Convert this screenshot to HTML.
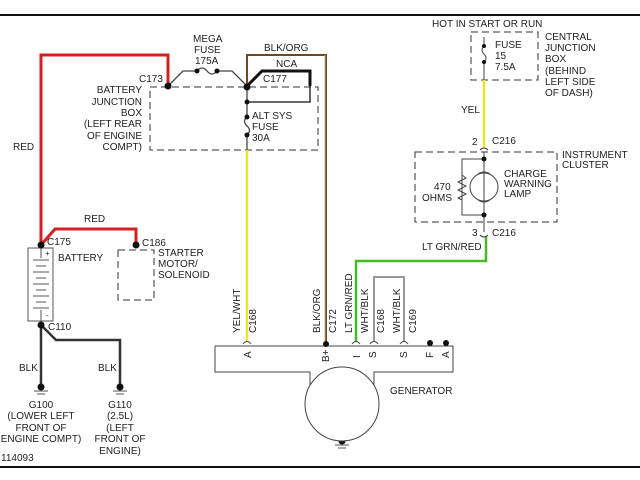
<!DOCTYPE html>
<html><head><meta charset="utf-8"><style>
html,body{margin:0;padding:0;background:#fff;width:640px;height:480px;overflow:hidden}
svg text{font-family:"Liberation Sans",sans-serif;font-size:10px;fill:#222}
</style></head><body>
<svg width="640" height="480" viewBox="0 0 640 480" xmlns="http://www.w3.org/2000/svg">
<rect width="640" height="480" fill="#fff"/>
<line x1="0" y1="15" x2="640" y2="15" stroke="#111" stroke-width="2"/>
<line x1="0" y1="467" x2="640" y2="467" stroke="#111" stroke-width="2"/>
<g fill="none" stroke="#333" stroke-width="1" stroke-dasharray="7,4">
<rect x="150" y="87" width="168" height="63"/>
<rect x="118" y="250" width="36" height="50"/>
<rect x="471" y="32" width="67" height="48"/>
<rect x="415" y="152" width="142" height="70"/>
</g>
<polyline points="41,245 41,55 168,55 168,86" fill="none" stroke="#d42020" stroke-width="3"/>
<polyline points="41,245 55,229 136,229 136,243" fill="none" stroke="#d42020" stroke-width="3"/>
<polyline points="168,86 183,71 197,71" fill="none" stroke="#444" stroke-width="1.3"/>
<path d="M197,71 q5,-6 10,0 q5,6 10,0" fill="none" stroke="#444" stroke-width="1.3"/>
<polyline points="217,71 232,71 247,86" fill="none" stroke="#444" stroke-width="1.3"/>
<circle cx="197" cy="71" r="2.5" fill="#111"/><circle cx="217" cy="71" r="2.5" fill="#111"/>
<polyline points="247,86 247,55 326,55 326,344" fill="none" stroke="#6b4a20" stroke-width="2"/>
<line x1="325" y1="55" x2="325" y2="344" stroke="#c8a870" stroke-width="1"/>
<polyline points="247,86 262,71 310,71 310,102 247,102" fill="none" stroke="#111" stroke-width="1.3"/>
<polyline points="247,86 262,71 310,71 310,86" fill="none" stroke="#111" stroke-width="3"/>
<line x1="247" y1="86" x2="247" y2="117" stroke="#444" stroke-width="1.3"/>
<path d="M247,117 q-5,4 0,9 q5,4 0,9" fill="none" stroke="#444" stroke-width="1.3"/>
<line x1="247" y1="135" x2="247" y2="150" stroke="#444" stroke-width="1.3"/>
<g fill="#111"><circle cx="168" cy="86" r="3.5"/><circle cx="247" cy="87" r="3.5"/><circle cx="247" cy="102" r="2.5"/><circle cx="247" cy="117" r="2.5"/><circle cx="247" cy="135" r="2.5"/></g>
<line x1="247" y1="150" x2="247" y2="342" stroke="#e8e820" stroke-width="2.5"/>
<line x1="484" y1="80" x2="484" y2="147" stroke="#e8e820" stroke-width="2.5"/>
<line x1="484" y1="37" x2="484" y2="46" stroke="#444"/>
<path d="M484,46 q-4,4 0,8 q4,4 0,8" fill="none" stroke="#444"/>
<line x1="484" y1="62" x2="484" y2="80" stroke="#444"/>
<circle cx="484" cy="46" r="2" fill="#111"/><circle cx="484" cy="62" r="2" fill="#111"/>
<polyline points="356,342 356,261 486,261 486,237" fill="none" stroke="#44bb22" stroke-width="2.5"/>
<polyline points="374,342 374,277 404,277 404,342" fill="none" stroke="#999" stroke-width="2"/>
<path d="M480,150 q4,-4 8,0 M480,235 q4,4 8,0" fill="none" stroke="#333"/>
<line x1="484" y1="152" x2="484" y2="232" stroke="#444"/>
<polyline points="484,159 462,159 462,215 484,215" fill="none" stroke="#444"/>
<path d="M462,175 l4,3 -8,4 8,4 -8,4 8,4 -8,4 4,2" fill="none" stroke="#444"/>
<circle cx="484" cy="187" r="14" fill="none" stroke="#444"/>
<path d="M478,174 q6,-4 12,0 M478,200 q6,4 12,0" fill="none" stroke="#444"/>
<circle cx="484" cy="159" r="2.5" fill="#111"/><circle cx="484" cy="215" r="2.5" fill="#111"/>
<rect x="28" y="248" width="25" height="73" fill="none" stroke="#555"/>
<g stroke="#555"><line x1="41" y1="248" x2="41" y2="258"/><line x1="33" y1="260" x2="49" y2="260"/><line x1="36" y1="266" x2="46" y2="266"/><line x1="33" y1="272" x2="49" y2="272"/><line x1="36" y1="278" x2="46" y2="278"/><line x1="33" y1="284" x2="49" y2="284"/><line x1="36" y1="290" x2="46" y2="290"/><line x1="33" y1="296" x2="49" y2="296"/><line x1="36" y1="302" x2="46" y2="302"/><line x1="33" y1="308" x2="49" y2="308"/><line x1="41" y1="310" x2="41" y2="321"/></g>
<text x="45" y="256" style="font-size:8px">+</text><text x="46" y="318" style="font-size:8px">-</text>
<polyline points="41,325 41,385" fill="none" stroke="#333" stroke-width="2.5"/>
<polyline points="41,325 56,340 120,340 120,385" fill="none" stroke="#333" stroke-width="2.5"/>
<g fill="#111"><circle cx="41" cy="245" r="3.5"/><circle cx="136" cy="245" r="3.5"/><circle cx="41" cy="325" r="3.5"/><circle cx="41" cy="387" r="3.5"/><circle cx="120" cy="387" r="3.5"/><circle cx="342" cy="441" r="3.5"/></g>
<g stroke="#555"><line x1="34" y1="391" x2="48" y2="391"/><line x1="37" y1="394" x2="45" y2="394"/><line x1="113" y1="391" x2="127" y2="391"/><line x1="116" y1="394" x2="124" y2="394"/><line x1="335" y1="445" x2="349" y2="445"/><line x1="338" y1="448" x2="346" y2="448"/></g>
<path d="M215,346 H453 V372 H374 V386 M310,386 V372 H215 V346" fill="none" stroke="#444"/>
<circle cx="342" cy="404" r="37" fill="#fff" stroke="#444"/>
<path d="M243,344 q4,-5 8,0 M352,344 q4,-5 8,0 M370,344 q4,-5 8,0 M400,344 q4,-5 8,0" fill="none" stroke="#444"/>
<circle cx="326" cy="344" r="3" fill="#111"/><circle cx="430" cy="343" r="3" fill="#111"/><circle cx="446" cy="343" r="3" fill="#111"/>
<g transform="rotate(-90)" style="font-size:9px">
<text x="-358" y="251">A</text><text x="-362" y="329">B+</text><text x="-358" y="360">I</text><text x="-358" y="376">S</text><text x="-358" y="407">S</text><text x="-358" y="433">F</text><text x="-358" y="449">A</text>
<text x="-333" y="240">YEL/WHT</text><text x="-333" y="256">C168</text>
<text x="-333" y="320">BLK/ORG</text><text x="-333" y="336">C172</text>
<text x="-333" y="352">LT GRN/RED</text><text x="-333" y="368">WHT/BLK</text><text x="-333" y="384">C168</text>
<text x="-333" y="400">WHT/BLK</text><text x="-333" y="416">C169</text>
</g>
<text x="193" y="42">MEGA</text><text x="194" y="53">FUSE</text><text x="195" y="64">175A</text>
<text x="264" y="51">BLK/ORG</text><text x="276" y="67">NCA</text><text x="263" y="82">C177</text>
<text x="139" y="82">C173</text>
<g text-anchor="end"><text x="142" y="93">BATTERY</text><text x="142" y="105">JUNCTION</text><text x="142" y="116">BOX</text><text x="142" y="127">(LEFT REAR</text><text x="142" y="139">OF ENGINE</text><text x="142" y="150">COMPT)</text></g>
<text x="252" y="119">ALT SYS</text><text x="252" y="130">FUSE</text><text x="252" y="141">30A</text>
<text x="13" y="150">RED</text><text x="84" y="222">RED</text>
<text x="47" y="245">C175</text><text x="58" y="261">BATTERY</text>
<text x="142" y="246">C186</text><text x="158" y="256">STARTER</text><text x="158" y="267">MOTOR/</text><text x="158" y="278">SOLENOID</text>
<text x="48" y="330">C110</text>
<text x="19" y="371">BLK</text><text x="98" y="371">BLK</text>
<g text-anchor="middle"><text x="41" y="408">G100</text><text x="41" y="419">(LOWER LEFT</text><text x="41" y="431">FRONT OF</text><text x="41" y="442">ENGINE COMPT)</text>
<text x="120" y="408">G110</text><text x="120" y="419">(2.5L)</text><text x="120" y="431">(LEFT</text><text x="120" y="442">FRONT OF</text><text x="120" y="454">ENGINE)</text></g>
<text x="1" y="461">114093</text>
<text x="390" y="394">GENERATOR</text>
<text x="432" y="27">HOT IN START OR RUN</text>
<text x="495" y="48">FUSE</text><text x="495" y="59">15</text><text x="495" y="70">7.5A</text>
<text x="545" y="40">CENTRAL</text><text x="545" y="51">JUNCTION</text><text x="545" y="62">BOX</text><text x="545" y="74">(BEHIND</text><text x="545" y="85">LEFT SIDE</text><text x="545" y="96">OF DASH)</text>
<text x="461" y="113">YEL</text>
<text x="472" y="145">2</text><text x="492" y="144">C216</text>
<text x="562" y="158">INSTRUMENT</text><text x="562" y="168">CLUSTER</text>
<text x="504" y="177">CHARGE</text><text x="504" y="187">WARNING</text><text x="504" y="197">LAMP</text>
<text x="434" y="190">470</text><text x="422" y="201">OHMS</text>
<text x="472" y="236">3</text><text x="492" y="236">C216</text>
<text x="422" y="250">LT GRN/RED</text>
</svg>
</body></html>
